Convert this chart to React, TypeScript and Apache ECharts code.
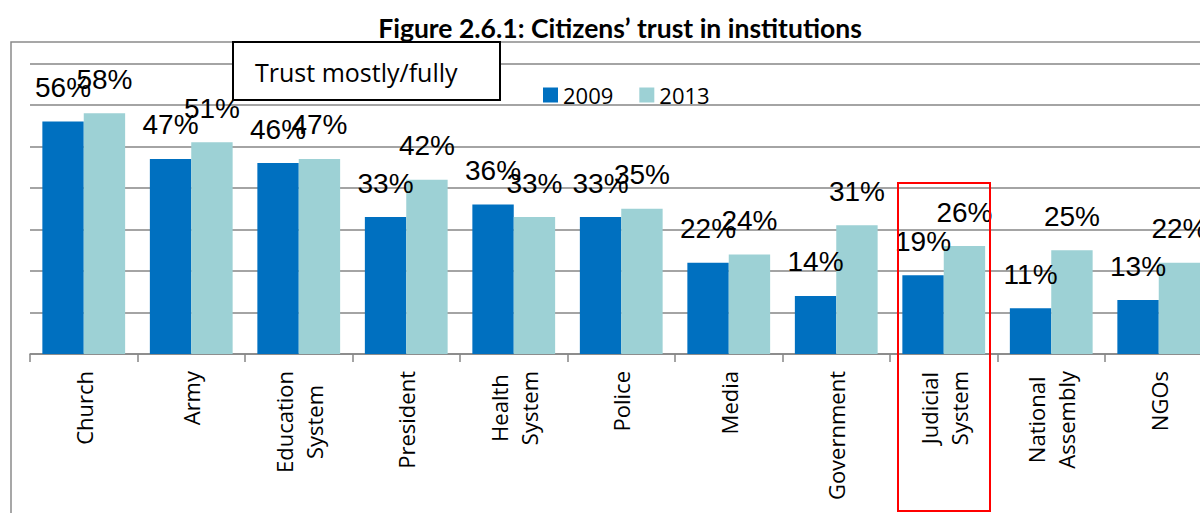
import React, { useEffect, useRef } from "react";
import * as echarts from "echarts";

const categories = [
  "Church",
  "Army",
  "Education\nSystem",
  "President",
  "Health\nSystem",
  "Police",
  "Media",
  "Government",
  "Judicial\nSystem",
  "National\nAssembly",
  "NGOs",
];
const values2009 = [56, 47, 46, 33, 36, 33, 22, 14, 19, 11, 13];
const values2013 = [58, 51, 47, 42, 33, 35, 24, 31, 26, 25, 22];
const seriesNames = ["2009", "2013"];
const titleText = "Figure 2.6.1: Citizens\u2019 trust in institutions";
const boxText = "Trust mostly/fully";

const CHART_W = 1260;
const CHART_H = 513;

export default function App() {
  const ref = useRef<HTMLDivElement>(null);
  useEffect(() => {
    if (!ref.current) return;
    const chart = echarts.init(ref.current, null, { renderer: "svg" });
    const labelStyle = {
      show: true,
      position: "top" as const,
      distance: 20,
      formatter: "{c}%",
      fontFamily: "Liberation Sans, Arial, sans-serif",
      fontSize: 28,
      color: "#000",
    };
    chart.setOption({
      animation: false,
      title: {
        text: titleText,
        left: 615,
        top: 9,
        textAlign: "center",
        textStyle: {
          fontFamily: "Lato",
          fontWeight: "bold",
          fontSize: 26.5,
          color: "#000",
        },
      },
      legend: {
        data: seriesNames,
        left: 538,
        top: 79,
        icon: "rect",
        itemWidth: 15,
        itemHeight: 15,
        itemGap: 26,
        textStyle: { fontFamily: "Open Sans", fontSize: 22, color: "#000" },
      },
      grid: { left: 30, right: CHART_W - 1212.5, top: 63.5, bottom: CHART_H - 354 },
      xAxis: {
        type: "category",
        data: categories,
        axisLine: { lineStyle: { color: "#868686", width: 1.5 } },
        axisTick: { show: true, length: 8, lineStyle: { color: "#868686", width: 1.5 } },
        axisLabel: {
          interval: 0,
          rotate: 90,
          margin: 17,
          color: "#000",
          fontFamily: "Open Sans",
          fontSize: 22,
          lineHeight: 30,
          formatter: (v: string) => v.split("\n").map((s) => `{c|${s}}`).join("\n"),
          rich: {
            c: {
              align: "center",
              fontFamily: "Open Sans",
              fontSize: 22,
              lineHeight: 30,
              color: "#000",
            },
          },
        },
      },
      yAxis: {
        type: "value",
        min: 0,
        max: 70,
        interval: 10,
        axisLabel: { show: false },
        axisLine: { show: false },
        axisTick: { show: false },
        splitLine: { lineStyle: { color: "#868686", width: 1.5 } },
      },
      series: [
        {
          name: seriesNames[0],
          type: "bar",
          data: values2009,
          barGap: "0%",
          barCategoryGap: "23%",
          itemStyle: { color: "#0070C0" },
          label: labelStyle,
        },
        {
          name: seriesNames[1],
          type: "bar",
          data: values2013,
          barGap: "0%",
          barCategoryGap: "23%",
          itemStyle: { color: "#9DD1D5" },
          label: labelStyle,
        },
      ],
      graphic: [
        {
          type: "rect",
          z: 0,
          silent: true,
          shape: { x: 11, y: 42, width: 1400, height: 700 },
          style: { fill: "none", stroke: "#8a8a8a", lineWidth: 1.5 },
        },
        {
          type: "rect",
          z: 50,
          shape: { x: 233, y: 42, width: 267, height: 58 },
          style: { fill: "#fff", stroke: "#000", lineWidth: 2 },
        },
        {
          type: "text",
          z: 51,
          x: 255,
          y: 72,
          style: {
            text: boxText,
            fontFamily: "Open Sans",
            fontSize: 25,
            fill: "#000",
            verticalAlign: "middle",
          },
        },
        {
          type: "rect",
          z: 60,
          shape: { x: 898, y: 183, width: 92, height: 328 },
          style: { fill: "none", stroke: "#ff0000", lineWidth: 2 },
        },
      ],
    });
    return () => chart.dispose();
  }, []);
  return (
    <div
      style={{
        position: "fixed",
        left: 0,
        top: 0,
        width: 1200,
        height: CHART_H,
        overflow: "hidden",
        background: "#fff",
      }}
    >
      <div ref={ref} style={{ width: CHART_W, height: CHART_H }} />
    </div>
  );
}
